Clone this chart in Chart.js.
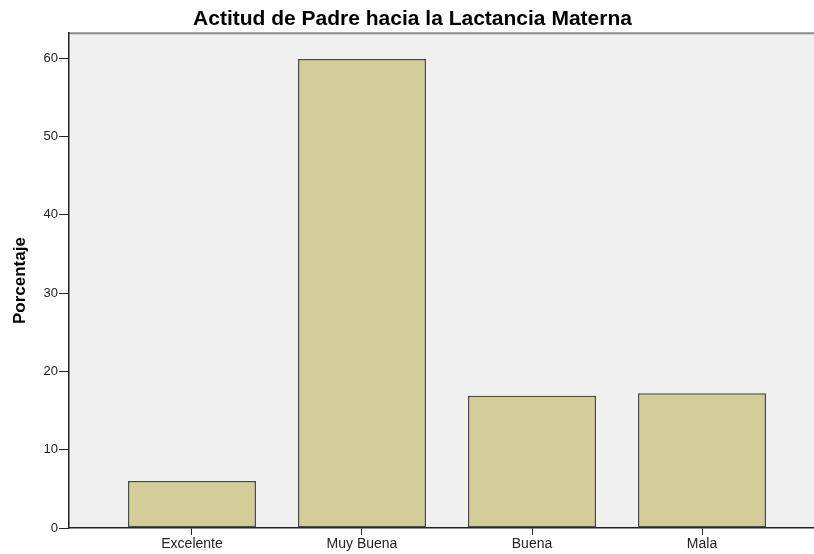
<!DOCTYPE html>
<html lang="es">
<head>
    <meta charset="UTF-8">
    <title>Actitud de Padre hacia la Lactancia Materna</title>
    <script src="https://cdn.jsdelivr.net/npm/chart.js@4"></script>
    <style>
        html, body { margin: 0; padding: 0; background: #fff; overflow: hidden; }
        #wrap { width: 830px; height: 554px; }
    </style>
</head>
<body>
    <div id="wrap"><canvas id="barChart"></canvas></div>

    <script>
        const categories = ['Excelente', 'Muy Buena', 'Buena', 'Mala'];
        const porcentajes = [6.0, 59.9, 16.9, 17.2];
        const yTicks = [0, 10, 20, 30, 40, 50, 60];

        // fondo gris del area de grafico y linea superior
        const plotBg = {
            id: 'plotBg',
            beforeDraw(chart) {
                const { ctx, chartArea: a } = chart;
                ctx.save();
                ctx.fillStyle = '#f0f0f0';
                ctx.fillRect(a.left, a.top, a.right - a.left, a.bottom - a.top);
                ctx.strokeStyle = '#8a8a8a';
                ctx.lineWidth = 2;
                ctx.beginPath();
                ctx.moveTo(a.left, a.top);
                ctx.lineTo(a.right, a.top);
                ctx.stroke();
                ctx.restore();
            }
        };

        const font = "'Liberation Sans', Arial, sans-serif";

        new Chart(document.getElementById('barChart'), {
            type: 'bar',
            data: {
                datasets: [{
                    data: porcentajes.map((v, i) => ({ x: i, y: v })),
                    backgroundColor: '#d3ce97',
                    borderColor: '#4a4a4a',
                    borderWidth: 1.5,
                    borderSkipped: false,
                    barPercentage: 0.753,
                    categoryPercentage: 1
                }]
            },
            options: {
                responsive: true,
                maintainAspectRatio: false,
                animation: false,
                layout: { padding: { right: 5, left: 0, top: 0, bottom: 0 } },
                plugins: {
                    legend: { display: false },
                    tooltip: { enabled: false },
                    title: {
                        display: true,
                        text: 'Actitud de Padre hacia la Lactancia Materna',
                        color: '#000',
                        font: { family: font, size: 21, weight: 'bold' },
                        padding: { top: 7, bottom: 1 }
                    }
                },
                scales: {
                    x: {
                        type: 'linear',
                        offset: false,
                        min: -0.7235,
                        max: categories.length - 1 + 0.7235,
                        afterBuildTicks: s => {
                            s.ticks = categories.map((c, i) => ({ value: i }));
                        },
                        afterFit: s => { s.height = 26; },
                        ticks: {
                            callback: v => categories[v],
                            color: '#222',
                            font: { family: font, size: 14 },
                            padding: 1,
                            autoSkip: false,
                            maxRotation: 0
                        },
                        grid: {
                            offset: false,
                            drawOnChartArea: false,
                            drawTicks: true,
                            tickLength: 7,
                            color: '#222'
                        },
                        border: { color: '#222', width: 1.5 }
                    },
                    y: {
                        min: 0,
                        max: 63.2,
                        afterBuildTicks: s => {
                            s.ticks = yTicks.map(v => ({ value: v }));
                        },
                        afterFit: s => { s.width = 69; },
                        ticks: {
                            color: '#222',
                            font: { family: font, size: 13 },
                            padding: 1
                        },
                        grid: {
                            drawOnChartArea: false,
                            drawTicks: true,
                            tickLength: 10,
                            color: '#222'
                        },
                        border: { color: '#222', width: 1.5 },
                        title: {
                            display: true,
                            text: 'Porcentaje',
                            color: '#000',
                            font: { family: font, size: 17, weight: 'bold' },
                            padding: { top: 10, bottom: 4 }
                        }
                    }
                }
            },
            plugins: [plotBg]
        });
    </script>
</body>
</html>
